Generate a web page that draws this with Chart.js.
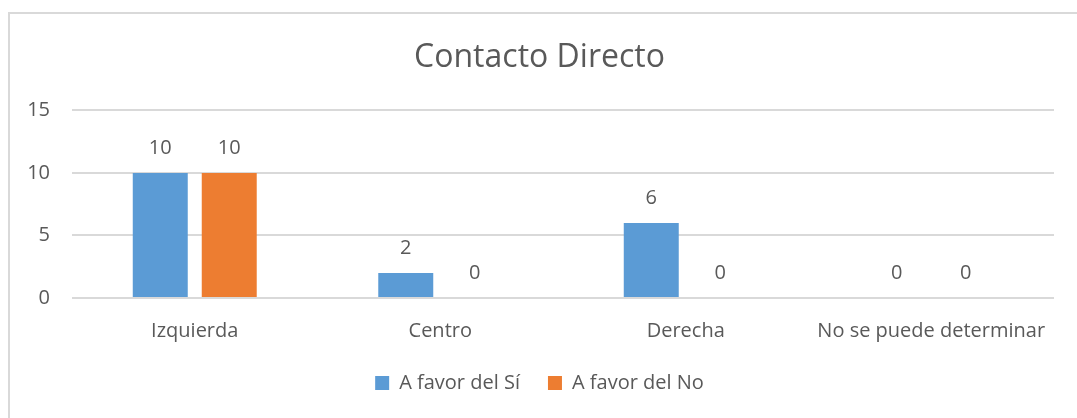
<!DOCTYPE html>
<html>
<head>
<meta charset="utf-8">
<script src="https://cdn.jsdelivr.net/npm/chart.js@4"></script>
<style>
  html, body { margin: 0; padding: 0; background: #fff; overflow: hidden; }
  #frame { position: absolute; left: 8px; top: 12px; width: 1200px; height: 500px; border: 2px solid #d9d9d9; box-sizing: border-box; }
  #wrap { position: absolute; left: 0; top: 0; width: 1077px; height: 418px; }
</style>
</head>
<body>
<div id="frame"></div>
<div id="wrap"><canvas id="myChart"></canvas></div>
<script>
const categories = ['Izquierda', 'Centro', 'Derecha', 'No se puede determinar'];
const seriesNames = ['A favor del Sí', 'A favor del No'];
const favorSi = [10, 2, 6, 0];
const favorNo = [10, 0, 0, 0];
const yTicks = [0, 5, 10, 15];

const textColor = '#595959';
const fontFamily = "'Open Sans', sans-serif";

// draws the value above each bar (Excel style data labels)
const barLabels = {
    id: 'barLabels',
    afterDatasetsDraw(chart) {
        const ctx = chart.ctx;
        ctx.save();
        ctx.font = '20px ' + fontFamily;
        ctx.fillStyle = textColor;
        ctx.textAlign = 'center';
        ctx.textBaseline = 'middle';
        chart.data.datasets.forEach((ds, i) => {
            chart.getDatasetMeta(i).data.forEach((bar, j) => {
                ctx.fillText(String(ds.data[j]), bar.x, bar.y - 25);
            });
        });
        ctx.restore();
    }
};

const data = {
    labels: categories,
    datasets: [{
        label: seriesNames[0],
        data: favorSi,
        backgroundColor: '#5B9BD5',
        categoryPercentage: 0.562,
        barPercentage: 0.797
    }, {
        label: seriesNames[1],
        data: favorNo,
        backgroundColor: '#ED7D31',
        categoryPercentage: 0.562,
        barPercentage: 0.797
    }]
};

const config = {
    type: 'bar',
    data: data,
    options: {
        responsive: true,
        maintainAspectRatio: false,
        animation: false,
        layout: {
            padding: { left: 25, right: 23, top: 0, bottom: 15 }
        },
        plugins: {
            title: {
                display: true,
                text: 'Contacto Directo',
                color: textColor,
                font: { family: fontFamily, size: 32, weight: 'normal' },
                padding: { top: 39, bottom: 33 }
            },
            legend: {
                position: 'bottom',
                labels: {
                    color: textColor,
                    font: { family: fontFamily, size: 20 },
                    boxWidth: 14,
                    boxHeight: 14,
                    padding: 28
                }
            },
            tooltip: { enabled: false }
        },
        scales: {
            x: {
                grid: { display: false },
                border: { display: false },
                afterFit: (scale) => { scale.height = 47; },
                ticks: {
                    color: textColor,
                    font: { family: fontFamily, size: 20 },
                    padding: 13,
                    maxRotation: 0
                }
            },
            y: {
                min: 0,
                max: 15,
                afterBuildTicks: (scale) => {
                    scale.ticks = yTicks.map(v => ({ value: v }));
                },
                afterFit: (scale) => { scale.width = 47; },
                grid: { color: '#d9d9d9', lineWidth: 2, drawTicks: false },
                border: { display: false },
                ticks: {
                    color: textColor,
                    font: { family: fontFamily, size: 20 },
                    padding: 22
                }
            }
        }
    },
    plugins: [barLabels]
};

var myChart = new Chart(document.getElementById('myChart'), config);
</script>
</body>
</html>
